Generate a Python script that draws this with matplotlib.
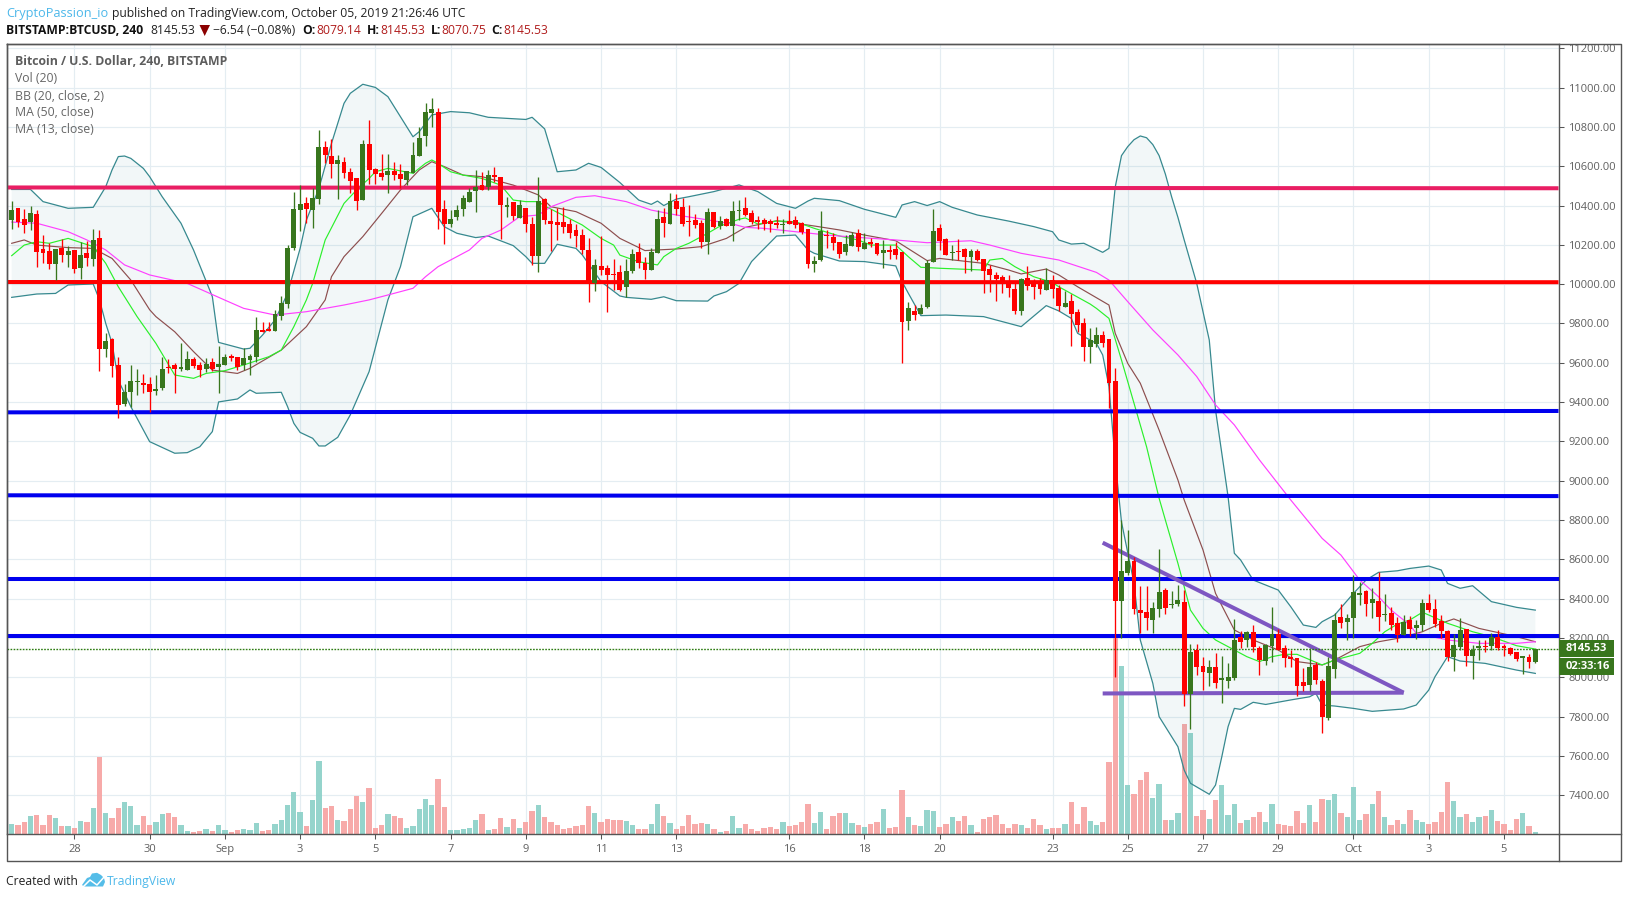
import matplotlib
matplotlib.use("Agg")
import matplotlib.pyplot as plt
from matplotlib.patches import Polygon, Rectangle
from matplotlib.lines import Line2D

# 4h candles, index 0 = Aug 26 08:00
opens = [
    10327,10386,10332,10315,10357,10179,10170,10103,10182,10148,
    10174,10084,10157,10130,10235,9670,9721,9589,9391,9450,
    9500,9498,9492,9458,9470,9579,9589,9569,9563,9619,
    9589,9569,9604,9579,9589,9635,9630,9589,9614,9630,
    9767,9772,9762,9838,9899,10186,10377,10411,10377,10433,
    10698,10652,10611,10620,10569,10540,10428,10713,10586,10566,
    10555,10576,10560,10530,10566,10654,10755,10873,10876,10382,
    10306,10340,10382,10420,10476,10503,10493,10555,10545,10394,
    10418,10335,10386,10306,10143,10433,10321,10316,10316,10306,
    10276,10250,10174,10004,10093,10083,10052,10062,9986,10067,
    10164,10108,10072,10159,10342,10306,10423,10393,10321,10327,
    10311,10215,10367,10296,10332,10296,10374,10388,10362,10327,
    10327,10321,10311,10303,10323,10327,10311,10281,10103,10123,
    10250,10240,10215,10164,10194,10260,10179,10215,10210,10159,
    10174,10179,10164,9813,9863,9848,9884,10113,10286,10230,
    10157,10169,10179,10138,10169,10128,10077,10047,10036,10016,
    9976,9864,10030,10016,10016,9970,10021,9981,9884,9914,
    9857,9803,9682,9696,9742,9721,9507,8390,8529,8592,
    8342,8332,8292,8347,8444,8369,8373,8383,7915,8139,
    8057,8022,8052,7986,7981,7997,8203,8190,8230,8147,
    8083,8159,8220,8147,8103,8098,7976,7961,8063,7981,
    7793,8042,8307,8281,8302,8419,8439,8378,8388,8317,
    8327,8276,8215,8292,8251,8266,8378,8347,8286,8236,
    8103,8154,8246,8108,8149,8159,8159,8203,8159,8147,
    8129,8098,8103,8079.14]
highs = [
    10423,10390,10382,10398,10377,10250,10208,10180,10230,10196,
    10175,10213,10220,10281,10276,9753,9725,9631,9492,9589,
    9569,9543,9526,9538,9631,9619,9597,9699,9660,9631,
    9606,9623,9624,9686,9645,9645,9630,9675,9645,9833,
    9808,9808,9869,9940,10199,10470,10505,10445,10488,10784,
    10730,10738,10657,10649,10589,10540,10733,10835,10590,10662,
    10662,10620,10611,10574,10723,10798,10920,10945,10895,10428,
    10377,10403,10454,10488,10581,10572,10581,10594,10545,10445,
    10418,10428,10386,10343,10547,10440,10383,10388,10394,10330,
    10306,10279,10233,10127,10245,10098,10128,10098,10127,10179,
    10208,10140,10182,10377,10390,10462,10459,10437,10403,10357,
    10328,10388,10367,10347,10335,10423,10428,10444,10377,10347,
    10335,10330,10347,10330,10377,10347,10318,10281,10143,10372,
    10276,10259,10215,10250,10267,10279,10262,10233,10210,10225,
    10199,10213,10164,9909,9894,9899,10123,10383,10306,10233,
    10200,10230,10183,10181,10179,10128,10098,10064,10047,10047,
    10004,10030,10093,10026,10030,10082,10047,9996,9965,9948,
    9874,9828,9775,9781,9762,9721,9572,8800,8749,8614,
    8465,8465,8383,8653,8453,8441,8470,8444,8169,8169,
    8105,8088,8124,8108,8073,8297,8236,8236,8266,8159,
    8169,8358,8244,8164,8139,8098,8047,8147,8076,7991,
    8103,8325,8373,8320,8519,8483,8444,8454,8536,8424,
    8358,8308,8317,8312,8292,8398,8424,8398,8317,8241,
    8220,8302,8246,8164,8190,8190,8224,8241,8169,8154,
    8129,8108,8119,8145.53]
lows = [
    10281,10293,10259,10275,10089,10106,10077,10021,10115,10089,
    10058,10028,10094,10090,9560,9631,9530,9321,9380,9377,
    9436,9448,9352,9436,9462,9546,9448,9558,9563,9575,
    9526,9553,9560,9448,9589,9609,9563,9563,9538,9604,
    9757,9762,9762,9818,9880,10175,10270,10310,10287,10408,
    10615,10538,10433,10538,10465,10377,10428,10510,10510,10530,
    10465,10530,10487,10505,10566,10654,10705,10801,10280,10204,
    10293,10326,10347,10420,10367,10479,10479,10521,10230,10343,
    10326,10335,10267,10098,10064,10306,10171,10225,10259,10233,
    10191,10154,9909,9967,10047,9858,9970,9965,9935,10057,
    10083,10026,10072,10159,10240,10306,10352,10296,10245,10286,
    10182,10154,10286,10281,10296,10220,10327,10347,10306,10281,
    10276,10267,10284,10262,10306,10284,10255,10083,10062,10118,
    10182,10174,10133,10148,10194,10169,10179,10189,10148,10082,
    10128,10128,9601,9767,9818,9848,9879,10113,10174,10148,
    10123,10123,10057,10067,10118,9955,9960,9915,9955,9935,
    9848,9843,9971,9925,9950,9970,9930,9864,9884,9685,
    9758,9611,9601,9682,9682,9372,8003,8198,8520,8322,
    8224,8241,8224,8308,8322,8351,8363,7854,7737,8012,
    7935,7956,7946,7871,7946,7986,8147,8152,8129,8012,
    8063,8078,8139,8052,8052,7905,7929,7929,7966,7718,
    7783,7996,8249,8190,8200,8368,8312,8302,8236,8286,
    8241,8178,8215,8210,8193,8236,8332,8258,8200,8083,
    8032,8139,8058,7991,8088,8129,8139,8139,8108,8113,
    8083,8017,8047,8070.75]
closes = [
    10377,10315,10301,10360,10165,10157,10101,10179,10148,10170,
    10079,10148,10133,10225,9670,9713,9584,9385,9450,9507,
    9501,9489,9452,9467,9569,9574,9569,9579,9619,9584,
    9563,9594,9569,9594,9630,9625,9579,9625,9635,9767,
    9757,9762,9848,9904,10182,10382,10408,10382,10437,10696,
    10657,10611,10632,10566,10525,10423,10713,10581,10560,10545,
    10576,10555,10535,10574,10657,10742,10876,10891,10367,10306,
    10332,10377,10437,10471,10496,10479,10555,10543,10405,10403,
    10347,10401,10306,10143,10421,10327,10306,10301,10291,10260,
    10245,10174,10008,10098,10072,10047,10047,9970,10067,10154,
    10108,10072,10165,10332,10311,10423,10383,10306,10316,10301,
    10215,10367,10291,10321,10296,10372,10377,10352,10316,10316,
    10306,10306,10301,10306,10306,10301,10265,10103,10118,10271,
    10245,10210,10154,10205,10250,10189,10210,10204,10154,10174,
    10165,10148,9808,9879,9843,9879,10108,10271,10220,10148,
    10160,10165,10138,10169,10123,10067,10047,10026,10006,9981,
    9862,10026,9991,9986,9976,10021,9976,9889,9904,9848,
    9793,9682,9716,9742,9703,9497,8390,8541,8592,8348,
    8327,8302,8353,8434,8353,8373,8393,7915,8129,8052,
    8027,8052,7971,7997,8002,8190,8180,8230,8154,8088,
    8164,8220,8139,8100,8093,7956,7956,8052,7986,7798,
    8057,8291,8276,8302,8434,8427,8373,8398,8307,8322,
    8266,8215,8281,8246,8266,8378,8342,8271,8236,8103,
    8164,8241,8108,8139,8159,8154,8203,8149,8149,8118,
    8093,8108,8078,8145.53]
volumes = [
    30,27,36,54,57,27,57,48,24,24,
    18,39,36,78,231,63,48,78,96,84,
    27,54,27,36,60,63,51,27,9,6,
    9,15,9,27,12,6,12,15,12,33,
    9,12,30,42,87,126,66,24,102,219,
    78,84,42,39,75,114,96,138,18,27,
    60,54,48,18,24,75,105,87,165,81,
    12,12,15,18,42,60,12,15,48,21,
    45,18,36,69,87,51,36,27,15,18,
    24,27,84,63,36,45,42,42,39,27,
    15,15,30,90,54,33,15,24,57,30,
    33,30,15,6,9,54,18,30,15,9,
    18,21,15,36,24,27,36,90,33,66,
    15,54,63,63,33,27,21,30,36,75,
    18,21,132,51,27,24,72,69,21,30,
    51,39,54,27,6,45,51,57,30,18,
    30,27,18,45,27,15,18,18,30,96,
    30,81,39,27,36,216,588,504,147,120,
    162,186,108,150,42,42,63,330,303,54,
    72,45,102,147,57,90,33,42,51,66,
    36,90,30,27,24,69,33,87,36,105,
    102,120,63,51,141,42,60,90,129,51,
    27,42,30,72,42,36,30,36,66,156,
    99,51,60,36,51,54,72,39,30,12,
    45,63,24,6]

upper_idx = [0,3,5,9,13,15,16,17,18,19,21,22,24,27,29,32,33,37,38,40,42,44,46,47,49,51,53,54,56,58,60,62,64,65,67,70,73,76,82,83,85,
             86,87,90,92,94,97,100,102,103,104,106,108,112,116,119,122,125,127,128,132,136,141,142,144,146,148,150,154,159,163,166,167,169,171,174,175,
             176,177,178,179,180,181,182,183,184,185,186,187,189,191,192,194,195,196,198,202,204,206,208,209,211,214,216,218,221,223,226,228,229,231,233,236,240,243]
upper = [10482,10482,10420,10386,10391,10496,10581,10649,10652,10640,10589,10547,10445,10310,10174,9937,9704,9670,9674,9741,9818,9953,10182,10326,10487,10716,10920,10971,11017,11001,10954,10852,10750,10776,10861,10878,10872,10849,10838,10849,10790,
         10683,10572,10581,10615,10594,10517,10428,10406,10423,10400,10433,10445,10471,10505,10471,10411,10386,10423,10437,10425,10381,10340,10403,10420,10400,10420,10391,10352,10321,10293,10267,10225,10204,10208,10162,10182,
         10494,10654,10700,10735,10754,10745,10710,10654,10560,10444,10340,10225,10004,9716,9360,8919,8631,8597,8495,8444,8359,8266,8254,8283,8317,8427,8495,8534,8542,8554,8566,8546,8478,8453,8466,8385,8356,8342]
lower_idx = [0,4,7,9,13,14,15,16,17,19,22,26,28,30,32,33,36,38,39,43,44,45,46,48,49,50,52,54,57,60,62,64,67,69,71,74,76,80,82,83,85,
             87,90,91,94,97,98,102,104,106,111,112,114,116,118,119,122,125,127,128,132,136,141,142,143,145,149,155,159,161,165,167,169,170,173,174,175,
             176,177,179,180,182,183,186,187,188,191,192,193,194,195,196,198,200,204,207,208,209,211,214,217,222,224,226,227,229,231,235,240,243]
lower = [9933,9950,9953,9996,10001,9920,9800,9700,9512,9377,9199,9140,9143,9173,9250,9401,9416,9462,9445,9450,9377,9292,9246,9216,9177,9177,9221,9335,9555,9920,10089,10343,10386,10292,10259,10237,10245,10196,10140,10106,10106,
         10203,10182,10149,10013,9940,9933,9923,9936,9916,9914,9940,9962,10004,10115,10148,10245,10250,10174,10157,10118,10115,10093,10013,9954,9840,9843,9835,9801,9784,9891,9864,9826,9750,9699,9640,9479,
         9100,8790,8478,8190,7969,7800,7647,7528,7461,7405,7452,7596,7749,7842,7837,7873,7862,7885,7901,7918,7859,7854,7842,7827,7839,7859,7935,8003,8105,8083,8071,8037,8020]
basis_idx = [0,2,4,9,13,16,19,22,23,26,29,32,36,38,43,47,50,51,53,56,59,62,65,67,69,72,75,80,84,86,90,94,97,101,106,110,114,117,122,125,128,132,136,141,146,148,155,159,161,165,167,170,175,176,178,180,183,186,187,190,192,195,198,202,205,209,211,215,218,221,225,228,230,234,240,243]
basis = [10208,10225,10199,10186,10182,10131,10021,9870,9835,9758,9657,9563,9546,9572,9665,9784,9920,10038,10140,10242,10360,10479,10581,10623,10598,10555,10547,10504,10454,10394,10369,10310,10233,10171,10179,10191,10233,10289,10323,10310,10296,10276,10250,10221,10120,10131,10106,10072,10052,10077,10047,9987,9894,9750,9597,9496,9258,9004,8902,8648,8427,8241,8190,8139,8080,8063,8088,8156,8181,8198,8232,8275,8297,8249,8207,8181]
ma13_idx = [0,2,4,6,9,13,15,17,20,23,26,29,31,34,37,41,43,45,47,48,50,53,55,57,58,60,64,66,67,68,70,72,75,78,80,82,84,85,91,94,96,97,100,103,104,106,108,111,113,116,117,119,122,125,128,132,135,137,141,143,145,148,155,156,158,160,163,166,167,172,173,175,177,179,181,183,184,186,188,190,192,195,197,199,201,203,205,209,211,215,217,219,221,223,225,229,233,236,240,243]
ma13 = [10145,10199,10216,10208,10233,10191,10106,9987,9835,9699,9538,9521,9546,9560,9589,9631,9665,9784,9920,10004,10225,10411,10479,10538,10572,10589,10564,10615,10632,10615,10572,10555,10538,10504,10428,10420,10420,10398,10301,10233,10199,10148,10114,10098,10140,10182,10208,10259,10296,10330,10337,10306,10321,10318,10284,10245,10225,10199,10199,10140,10086,10081,10072,10123,10131,10089,10038,10008,9987,9899,9877,9826,9614,9394,9173,8911,8800,8580,8342,8249,8190,8139,8105,8080,8105,8117,8117,8063,8088,8122,8173,8232,8271,8292,8331,8275,8232,8207,8161,8144]
ma50_idx = [0,4,9,12,15,18,22,28,34,37,42,47,53,57,60,64,66,68,70,73,75,78,81,84,86,90,93,98,102,106,111,115,117,120,125,130,135,141,146,153,156,161,167,171,173,175,178,182,186,189,192,195,199,204,209,212,215,218,220,223,224,229,234,240,243]
ma50 = [10316,10310,10267,10225,10174,10098,10047,10004,9919,9877,9843,9860,9894,9920,9945,9979,10038,10089,10123,10174,10233,10275,10343,10352,10394,10442,10450,10420,10377,10352,10327,10306,10289,10284,10267,10250,10238,10225,10211,10221,10199,10157,10123,10081,10060,10021,9911,9767,9640,9530,9386,9284,9106,8902,8707,8622,8495,8410,8342,8266,8224,8190,8173,8173,8181]

# drawn levels and trendlines: (start price, end price)
levels = [(10492, 10488), (10011, 10010), (9348, 9355), (8926, 8922), (8502, 8502), (8210, 8210)]
level_colors = ['#e91e63', '#ff0000', '#0000ee', '#0000ee', '#0000ee', '#0000ee']
trend_idx = [174, 222]
trend_down = [8685, 7922]
trend_flat = [7918, 7922]

tick_idx = [10,22,34,46,58,70,82,94,106,124,136,148,166,178,190,202,214,226,238]
tick_labels = ['28','30','Sep','3','5','7','9','11','13','16','18','20','23','25','27','29','Oct','3','5']
price_ticks = list(range(7400, 11400, 200))
last_price = 8145.53

W, H = 1627, 898
GREEN = '#38761d'
RED = '#ff0000'
GREY = '#555555'
FONT = 'Open Sans'
plt.rcParams['font.family'] = [FONT, 'DejaVu Sans']


def fx(x):
    return x / W


def fy(y):
    return 1 - y / H


def put(x, y, s, **kw):
    kw.setdefault('va', 'center')
    kw.setdefault('fontsize', 8.7)
    fig.text(fx(x), fy(y + 1), s, **kw)


fig = plt.figure(figsize=(W / 100, H / 100), dpi=100)
left, right, top, bottom = 6.5, 1558.5, 43.5, 834
ax = fig.add_axes([fx(left), fy(bottom), fx(right - left), (bottom - top) / H])
ax.set_xlim(10 + (left - 74.4) / 6.27, 10 + (right - 74.4) / 6.27)
price_floor = 7203
ax.set_ylim(price_floor, 11224.4)

ax.set_axisbelow(True)
ax.grid(True, color='#e4edf2', linewidth=0.85)
ax.set_xticks(tick_idx)
ax.set_xticklabels(tick_labels)
ax.set_yticks(price_ticks)
ax.set_yticklabels(['%.2f' % p for p in price_ticks])
ax.yaxis.tick_right()
ax.tick_params(axis='both', colors=GREY, length=3.6, width=0.75, labelsize=8.0, labelcolor='#606060')
ax.tick_params(axis='y', pad=3.5)
ax.tick_params(axis='x', pad=3.5)
for s in ax.spines.values():
    s.set_color(GREY)
    s.set_linewidth(1.0)

x = list(range(len(closes)))
up = [c >= o for o, c in zip(opens, closes)]

# volume sits on the floor of the price pane
vol_scale = 1.6957
ax.bar(x, [v * vol_scale for v in volumes], bottom=price_floor, width=0.84,
       color=['#8fd2ca' if u else '#f7a6a5' for u in up], linewidth=0, alpha=0.95, zorder=1.5)

# bollinger band
band = list(zip(upper_idx, upper)) + list(zip(lower_idx, lower))[::-1]
ax.add_patch(Polygon(band, closed=True, facecolor='#26858c', alpha=0.06, edgecolor='none', zorder=2))
ax.plot(upper_idx, upper, color='#37898f', linewidth=0.9, zorder=3)
ax.plot(lower_idx, lower, color='#37898f', linewidth=0.9, zorder=3)
ax.plot(basis_idx, basis, color='#8d4e4e', linewidth=0.85, zorder=3)
ax.plot(ma13_idx, ma13, color='#2bf02b', linewidth=0.85, zorder=3)
ax.plot(ma50_idx, ma50, color='#ff40ff', linewidth=0.85, zorder=3)

for (a, b), c in zip(levels, level_colors):
    ax.plot(ax.get_xlim(), [a, b], color=c, linewidth=2.9, solid_capstyle='butt', zorder=4)
ax.plot(trend_idx, trend_down, color='#7e57c2', linewidth=2.9, solid_capstyle='butt', zorder=4.2)
ax.plot(trend_idx, trend_flat, color='#7e57c2', linewidth=2.9, solid_capstyle='butt', zorder=4.2)
ax.axhline(last_price, color='#2e7d12', linewidth=1.0, linestyle=(0, (1.2, 1.0)), zorder=4.3)

# candles
colors = [GREEN if u else RED for u in up]
ax.vlines(x, lows, highs, colors=colors, linewidth=0.95, zorder=5)
ax.bar(x, [max(abs(c - o), 5) for o, c in zip(opens, closes)],
       bottom=[min(o, c) for o, c in zip(opens, closes)],
       width=0.78, color=colors, linewidth=0, antialiased=False, zorder=5.1)

# outer frame
frame_kw = dict(color=GREY, linewidth=1.0, transform=fig.transFigure)
fig.add_artist(Line2D([fx(left), fx(left), fx(1620.5), fx(1620.5), fx(left)],
                      [fy(43.5), fy(861), fy(861), fy(43.5), fy(43.5)], **frame_kw))
fig.add_artist(Line2D([fx(right), fx(right)], [fy(834), fy(861)], **frame_kw))
fig.add_artist(Line2D([fx(right), fx(1620.5)], [fy(834), fy(834)], **frame_kw))

# price tags
for y0, y1, s in [(640, 657, '8145.53'), (658.3, 675, '02:33:16')]:
    fig.add_artist(Rectangle((fx(right), fy(y1)), fx(1614 - right), (y1 - y0) / H,
                             transform=fig.transFigure, facecolor=GREEN, edgecolor='none', zorder=6))
    put(1566, (y0 + y1) / 2 - 1, s, color='white', fontweight='bold', fontsize=8.0, zorder=7)

# header
put(6, 12.5, 'CryptoPassion_io', color='#4db8ea', fontsize=9.15)
put(112, 12.5, 'published on TradingView.com, October 05, 2019 21:26:46 UTC', color='#222222', fontsize=8.75)
put(6, 29.5, 'BITSTAMP:BTCUSD, 240', color='#111111', fontweight='bold')
put(150, 29.5, '8145.53', color='#222222')
fig.add_artist(Polygon([(fx(199.5), fy(25)), (fx(210), fy(25)), (fx(204.7), fy(36))], closed=True,
                       transform=fig.transFigure, facecolor='#8b0000', edgecolor='none'))
put(213, 29.5, '\u22126.54 (\u22120.08%)', color='#222222')
for lx, vx, name, val in [(302.7, 316, 'O:', '8079.14'), (366.7, 380, 'H:', '8145.53'),
                          (430.7, 441.3, 'L:', '8070.75'), (491.7, 503.3, 'C:', '8145.53')]:
    put(lx, 29.5, name, color='#111111', fontweight='bold')
    put(vx, 29.5, val, color='#b01c1c')

# legend block
put(15, 60.7, 'Bitcoin / U.S. Dollar, 240, BITSTAMP', color='#5d5d5d', fontweight='bold', fontsize=8.85, zorder=8)
for y, s in [(77.7, 'Vol (20)'), (95, 'BB (20, close, 2)'), (111.7, 'MA (50, close)'), (128.3, 'MA (13, close)')]:
    put(15, y, s, color='#666666', fontsize=8.85, zorder=8)

# footer
put(6, 880.7, 'Created with', color='#222222')
put(107, 880.7, 'TradingView', color='#4db8ea')
cloud = [(82, 885), (87, 878), (90, 877), (92, 873.5), (97, 872.8), (101, 875), (104, 878), (105, 882), (103, 886.5), (84, 886.5)]
fig.add_artist(Polygon([(fx(a), fy(b)) for a, b in cloud], closed=True,
                       transform=fig.transFigure, facecolor='#55bde8', edgecolor='none'))
fig.add_artist(Line2D([fx(83), fx(90), fx(97), fx(105)], [fy(887), fy(880), fy(885), fy(876)],
                      color='white', linewidth=1.1, transform=fig.transFigure))

fig.savefig('out.png', dpi=100)
